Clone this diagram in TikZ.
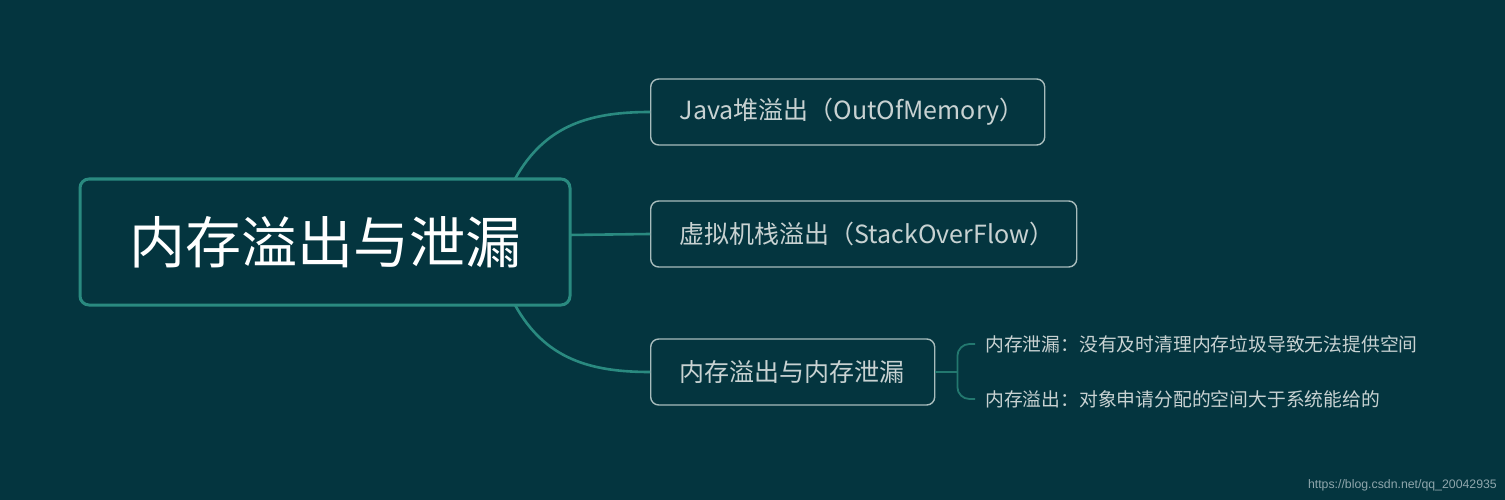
\documentclass[tikz,border=0pt]{standalone}
\usepackage{fontspec}
\setmainfont{Noto Sans CJK SC}
\newfontfamily\wmfont{Liberation Sans}
\usetikzlibrary{calc}
\definecolor{bgc}{HTML}{04353F}
\definecolor{teal1}{HTML}{2A8A80}
\definecolor{teal2}{HTML}{23786F}
\definecolor{boxline}{HTML}{A8BCBC}
\definecolor{subtext}{HTML}{C8D2D2}
\definecolor{wmc}{HTML}{8FA6AC}
\begin{document}
\begin{tikzpicture}[x=1pt,y=-1pt,
  mainbox/.style={draw=teal1,line width=3pt,fill=bgc,rounded corners=9pt,
    minimum width=490pt,minimum height=126pt,inner sep=0pt,text=white,
    font=\fontsize{56}{60}\selectfont},
  subbox/.style={draw=boxline,line width=1.4pt,fill=bgc,rounded corners=8pt,
    minimum height=66pt,inner xsep=29pt,inner ysep=0pt,anchor=west,align=left,
    text=subtext,font=\fontsize{25}{29}\selectfont},
  leaf/.style={anchor=west,inner xsep=10pt,inner ysep=0pt,text=subtext,
    font=\fontsize{18.8}{22}\selectfont},
  conn/.style={draw=teal1,line width=2.6pt},
  thinconn/.style={draw=teal2,line width=1.8pt}]
\fill[bgc] (0,0) rectangle (1505,500);
\useasboundingbox (0,0) rectangle (1505,500);
\coordinate (m1) at (515,179);
\coordinate (m3) at (515,305);
\coordinate (m2) at (568,235);
\node[subbox,text width=336pt] (b1) at (650,112) {Java堆溢出（OutOfMemory）};
\node[subbox,text width=368pt] (b2) at (650,234) {虚拟机栈溢出（StackOverFlow）};
\node[subbox,text width=226pt] (b3) at (650,372) {内存溢出与内存泄漏};
\draw[conn] (m1) .. controls (545,125) and (590,112) .. (b1.west);
\draw[conn] (m3) .. controls (545,359) and (590,372) .. (b3.west);
\draw[conn] (m2) -- (b2.west);
\node[mainbox] (main) at (325,242) {内存溢出与泄漏};
\node[leaf] (l1) at (975,344) {内存泄漏：没有及时清理内存垃圾导致无法提供空间};
\node[leaf] (l2) at (975,399) {内存溢出：对象申请分配的空间大于系统能给的};
\coordinate (j) at ($(b3.east)+(22,0)$);
\draw[thinconn] (b3.east) -- (j);
\draw[thinconn,rounded corners=12pt] (j) |- (l1.west);
\draw[thinconn,rounded corners=12pt] (j) |- (l2.west);
\node[anchor=east,inner sep=0pt,text=wmc,font=\wmfont\fontsize{12.3}{14}\selectfont] (wm) at (1497,485) {https://blog.csdn.net/qq\_20042935};
\end{tikzpicture}
\end{document}
